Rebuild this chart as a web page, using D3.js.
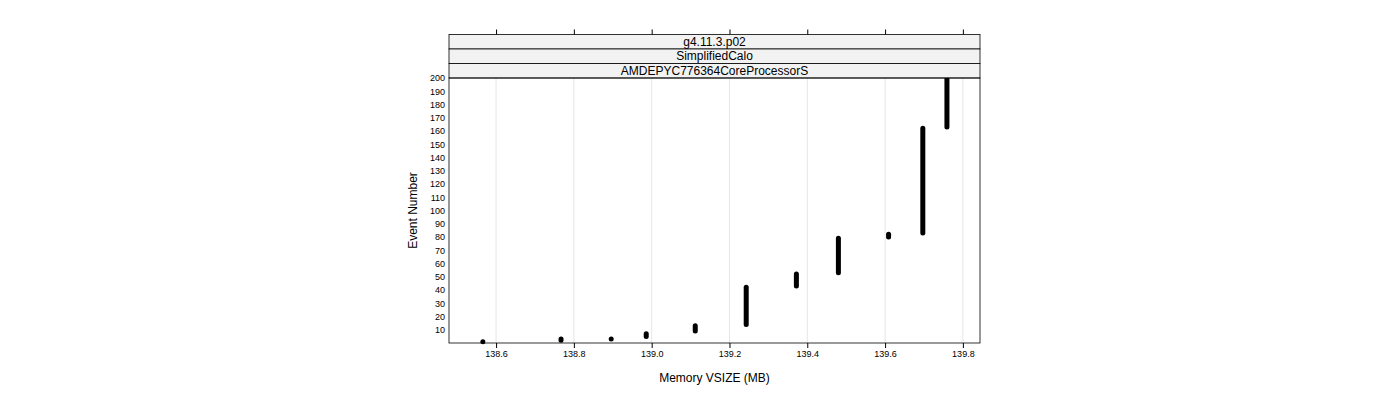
<!DOCTYPE html>
<html><head><meta charset="utf-8">
<script src="https://cdn.jsdelivr.net/npm/d3@7"></script>
<style>body{margin:0;background:#fff}text{font-family:"Liberation Sans",Arial,sans-serif}</style>
</head><body>
<script>
// columns of events: memory value and first/last event number at that value
const vsize = [138.566, 138.767, 138.896, 138.986, 139.112, 139.243, 139.372, 139.480, 139.609, 139.697, 139.759];
const evFirst = [1, 2, 3, 5, 9, 14, 43, 53, 80, 83, 163];
const evLast  = [1, 3, 3, 7, 13, 42, 52, 79, 82, 162, 200];
const xTicks = [138.6, 138.8, 139.0, 139.2, 139.4, 139.6, 139.8];
const yTicks = d3.range(10, 201, 10);
const strips = ["g4.11.3.p02", "SimplifiedCalo", "AMDEPYC776364CoreProcessorS"];

const svg = d3.select("body").append("svg").attr("width", 1400).attr("height", 400);
const L = 449, R = 980, T = 78, B = 343, stripH = 14.5;
const x = d3.scaleLinear().domain([138.479, 139.844]).range([L, R]);
const y = d3.scaleLinear().domain([0, 200]).range([B, T]);

// grid
svg.selectAll(".grid").data(xTicks).join("line")
  .attr("x1", d => x(d)).attr("x2", d => x(d)).attr("y1", T).attr("y2", B)
  .attr("stroke", "#e6e6e6");

// data
svg.selectAll(".col").data(vsize).join("line")
  .attr("x1", d => x(d)).attr("x2", d => x(d))
  .attr("y1", (d, i) => y(evFirst[i])).attr("y2", (d, i) => y(evLast[i]))
  .attr("stroke", "#000").attr("stroke-width", 5).attr("stroke-linecap", "round");

// strips
strips.forEach((s, i) => {
  const top = T - stripH * (strips.length - i);
  svg.append("rect").attr("x", L).attr("y", top).attr("width", R - L).attr("height", stripH)
    .attr("fill", "#f2f2f2").attr("stroke", "#000").attr("stroke-width", 0.8);
  svg.append("text").attr("x", (L + R) / 2).attr("y", top + stripH / 2 + 4)
    .attr("text-anchor", "middle").attr("font-size", 12).text(s);
});
const stripTop = T - stripH * strips.length;

// panel border
svg.append("rect").attr("x", L).attr("y", T).attr("width", R - L).attr("height", B - T)
  .attr("fill", "none").attr("stroke", "#000").attr("stroke-width", 0.8);

// bottom axis
const bx = svg.append("g").attr("transform", `translate(0,${B})`)
  .call(d3.axisBottom(x).tickValues(xTicks).tickSize(5).tickPadding(3).tickFormat(d3.format(".1f")));
bx.select(".domain").remove();
bx.selectAll("text").attr("font-size", 9).attr("font-family", "Liberation Sans, Arial");
// top ticks
const tx = svg.append("g").attr("transform", `translate(0,${stripTop})`)
  .call(d3.axisTop(x).tickValues(xTicks).tickSize(5).tickFormat(""));
tx.select(".domain").remove();

// left axis
const ly = svg.append("g").attr("transform", `translate(${L},0)`)
  .call(d3.axisLeft(y).tickValues(yTicks).tickSize(0).tickPadding(4));
ly.select(".domain").remove();
ly.selectAll("text").attr("font-size", 9).attr("font-family", "Liberation Sans, Arial");

svg.append("text").attr("x", (L + R) / 2).attr("y", 382).attr("text-anchor", "middle")
  .attr("font-size", 12).text("Memory VSIZE (MB)");
svg.append("text").attr("transform", `translate(417,${(T + B) / 2}) rotate(-90)`)
  .attr("text-anchor", "middle").attr("font-size", 12).text("Event Number");
</script>
</body></html>
